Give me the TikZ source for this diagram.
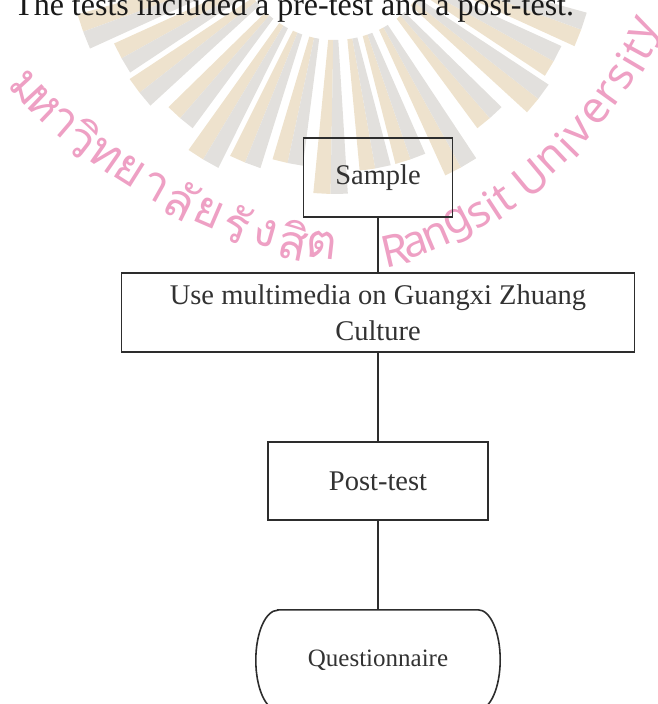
\documentclass[tikz,border=0pt]{standalone}
\usepackage{fontspec}
\setmainfont{Liberation Serif}
\newfontfamily\thaifont[Script=Thai]{Loma}
\newfontfamily\wmsans{Noto Sans}
\usetikzlibrary{calc}
\definecolor{wmbeige}{RGB}{238,226,205}
\definecolor{wmgray}{RGB}{226,224,221}
\definecolor{wmpink}{RGB}{238,160,196}
\definecolor{boxline}{RGB}{45,45,45}
\definecolor{boxtext}{RGB}{50,50,50}
\newcommand{\wmray}[2]{%
  \fill[wmbeige] (#1-3.9:#2) -- (#1-2.9:100) -- (#1:100) -- (#1:#2) -- cycle;
  \fill[wmgray] (#1:#2) -- (#1:100) -- (#1+2.9:100) -- (#1+3.9:#2) -- cycle;
}

\begin{document}
\begin{tikzpicture}[x=1pt,y=1pt,
    box/.style={draw=boxline,line width=1.6pt,inner sep=0pt,text=boxtext,
      font=\fontsize{28.5}{36}\selectfont},
    link/.style={draw=boxline,line width=2.8pt},
    wmthai/.style={text=wmpink,font=\thaifont\fontsize{48}{48}\selectfont,inner sep=0pt,sloped},
    wmlatin/.style={text=wmpink,font=\wmsans\fontsize{44}{44}\selectfont,inner sep=0pt,sloped}]
    \useasboundingbox (0,0) rectangle (657,-704);
    \clip (0,0) rectangle (657,-704);
    % watermark
    \begin{scope}[shift={(335,60)}]
      \foreach \a/\r in {-20/262,-29/250,-38/258,-49/236,-61/260,-71/232,-80/232,
          -91/254,-102/228,-112/240,-121/256,-131/236,-142/248,-151/244,-160/268}
        {\wmray{\a}{\r}}
    \end{scope}
    \foreach \c [count=\i, evaluate=\i as \p using (\i-0.5)/13] in {ม,ห,า,วิ,ท,ย,า,ลั,ย,รั,ง,สิ,ต}
      \path (20,-80) .. controls (80,-150) and (215,-238) .. (336,-246)
        node[wmthai,pos=\p] (wt\i) {\c};
    \foreach \c/\p [count=\i] in {R/.036,a/.105,n/.175,g/.249,s/.314,i/.358,t/.395,
        U/.486,n/.562,i/.614,v/.661,e/.726,r/.783,s/.836,i/.880,t/.917,y/.969}
      \path (385,-252) .. controls (480,-235) and (600,-140) .. (652,-20)
        node[wmlatin,pos=\p] (wl\i) {\c};
    \node[anchor=base west,inner sep=0pt,font=\fontsize{32}{38}\selectfont,text=black!90]
      (heading) at (14,-15.5) {The tests included a pre-test and a post-test.};
    % flow
    \node[box,minimum width=149,minimum height=79] (sample) at (378,-177.5) {Sample};
    \node[box,minimum width=513,minimum height=79,align=center] (media) at (378,-312.5)
      {Use multimedia on Guangxi Zhuang\\Culture};
    \node[box,minimum width=220,minimum height=78] (post) at (378,-481) {Post-test};
    \node[inner sep=0pt,minimum width=200,minimum height=100,text=boxtext,
      font=\fontsize{25}{30}\selectfont] (quest) at (378,-660) {Questionnaire};
    \draw[boxline,line width=1.6pt] (quest.north west) -- (quest.north east)
      arc[start angle=90,end angle=-90,x radius=22pt,y radius=50pt] -- (quest.south west)
      arc[start angle=270,end angle=90,x radius=22pt,y radius=50pt] -- cycle;
    \draw[link] (sample) -- (media);
    \draw[link] (media) -- (post);
    \draw[link] (post) -- (quest);
  \end{tikzpicture}
\end{document}
